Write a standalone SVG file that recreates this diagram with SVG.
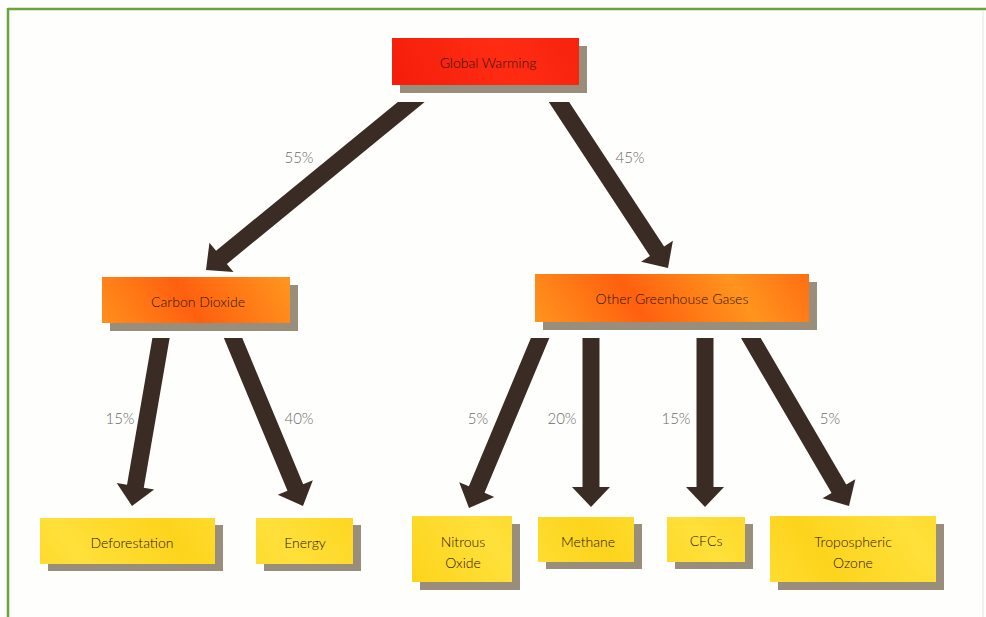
<svg xmlns="http://www.w3.org/2000/svg" width="986" height="617" viewBox="0 0 986 617">
<style>
.lbl{font-family:Lato,"Open Sans","Liberation Sans",sans-serif;font-size:14px;font-weight:300;fill:#2a140c;text-anchor:middle;dominant-baseline:central}
.pct{font-family:Lato,"Open Sans","Liberation Sans",sans-serif;font-size:15px;font-weight:300;fill:#6a6a6a;text-anchor:middle;dominant-baseline:central}
.sh{fill:#998e7b}
.red{fill:url(#gRed)}
.org{fill:url(#gOrg)}
.yel{fill:url(#gYel)}
.arr{fill:#3a2c24}
</style>
<defs>
<linearGradient id="gRed" gradientUnits="userSpaceOnUse" x1="0" y1="0" x2="90" y2="-50" spreadMethod="reflect">
<stop offset="0" stop-color="#ff2c12"/><stop offset="1" stop-color="#f51e0c"/>
</linearGradient>
<linearGradient id="gOrg" gradientUnits="userSpaceOnUse" x1="0" y1="0" x2="80" y2="-50" spreadMethod="reflect">
<stop offset="0" stop-color="#ff600e"/><stop offset="1" stop-color="#ff941e"/>
</linearGradient>
<linearGradient id="gYel" gradientUnits="userSpaceOnUse" x1="0" y1="0" x2="70" y2="-50" spreadMethod="reflect">
<stop offset="0" stop-color="#fcd41c"/><stop offset="1" stop-color="#ffe03a"/>
</linearGradient>
<path id="arrow" d="M-8.5,-400 L8.5,-400 L8.5,-20 L19,-20 L0,0 L-19,-20 L-8.5,-20 Z"/>
<clipPath id="clipTop"><rect x="0" y="102" width="986" height="200"/></clipPath>
<clipPath id="clipBot"><rect x="0" y="338" width="986" height="200"/></clipPath>
</defs>
<rect x="0" y="0" width="986" height="617" fill="#fefefc"/>
<g id="frame">
<line x1="8" y1="9" x2="986" y2="9" stroke="#6aa43a" stroke-width="2.5"/>
<line x1="8" y1="8" x2="8" y2="617" stroke="#6aa43a" stroke-width="2.5"/>
<line x1="983" y1="10" x2="983" y2="617" stroke="#e6e6e2" stroke-width="1"/>
</g>
<g id="connectors">
<g clip-path="url(#clipTop)">
<use href="#arrow" class="arr" transform="translate(206,270) rotate(50.7)"/>
<use href="#arrow" class="arr" transform="translate(668,268) rotate(-33.3)"/>
</g>
<g clip-path="url(#clipBot)">
<use href="#arrow" class="arr" transform="translate(132,506) rotate(9.8)"/>
<use href="#arrow" class="arr" transform="translate(303,506) rotate(-22.6)"/>
<use href="#arrow" class="arr" transform="translate(469,508) rotate(22.7)"/>
<use href="#arrow" class="arr" transform="translate(591,507)"/>
<use href="#arrow" class="arr" transform="translate(705,507)"/>
<use href="#arrow" class="arr" transform="translate(849,506) rotate(-30.3)"/>
</g>
<text class="pct" x="299" y="157">55%</text>
<text class="pct" x="630" y="157">45%</text>
<text class="pct" x="120" y="418">15%</text>
<text class="pct" x="299" y="418">40%</text>
<text class="pct" x="478" y="418">5%</text>
<text class="pct" x="562" y="418">20%</text>
<text class="pct" x="676" y="418">15%</text>
<text class="pct" x="830" y="418">5%</text>
</g>
<g id="global-warming">
<rect class="sh" x="400" y="46" width="187" height="47"/>
<rect class="red" x="392" y="38" width="187" height="47"/>
<text class="lbl" x="488" y="62">Global Warming</text>
</g>
<g id="carbon-dioxide">
<rect class="sh" x="110" y="285" width="188" height="46"/>
<rect class="org" x="102" y="277" width="188" height="46"/>
<text class="lbl" x="198" y="301">Carbon Dioxide</text>
</g>
<g id="other-greenhouse-gases">
<rect class="sh" x="543" y="282" width="274" height="48"/>
<rect class="org" x="535" y="274" width="274" height="48"/>
<text class="lbl" x="672" y="298">Other Greenhouse Gases</text>
</g>
<g id="deforestation">
<rect class="sh" x="48" y="525" width="175" height="46"/>
<rect class="yel" x="40" y="518" width="175" height="46"/>
<text class="lbl" x="132" y="542">Deforestation</text>
</g>
<g id="energy">
<rect class="sh" x="264" y="525" width="97" height="46"/>
<rect class="yel" x="256" y="518" width="97" height="46"/>
<text class="lbl" x="305" y="542">Energy</text>
</g>
<g id="nitrous-oxide">
<rect class="sh" x="420" y="524" width="100" height="66"/>
<rect class="yel" x="412" y="516" width="100" height="66"/>
<text class="lbl" x="463" y="541">Nitrous</text>
<text class="lbl" x="463" y="562">Oxide</text>
</g>
<g id="methane">
<rect class="sh" x="546" y="524" width="96" height="45"/>
<rect class="yel" x="538" y="517" width="96" height="45"/>
<text class="lbl" x="588" y="541">Methane</text>
</g>
<g id="cfcs">
<rect class="sh" x="675" y="524" width="78" height="45"/>
<rect class="yel" x="667" y="517" width="78" height="45"/>
<text class="lbl" x="706" y="540">CFCs</text>
</g>
<g id="tropospheric-ozone">
<rect class="sh" x="778" y="524" width="166" height="66"/>
<rect class="yel" x="770" y="516" width="166" height="66"/>
<text class="lbl" x="853" y="541">Tropospheric</text>
<text class="lbl" x="853" y="562">Ozone</text>
</g>
</svg>
